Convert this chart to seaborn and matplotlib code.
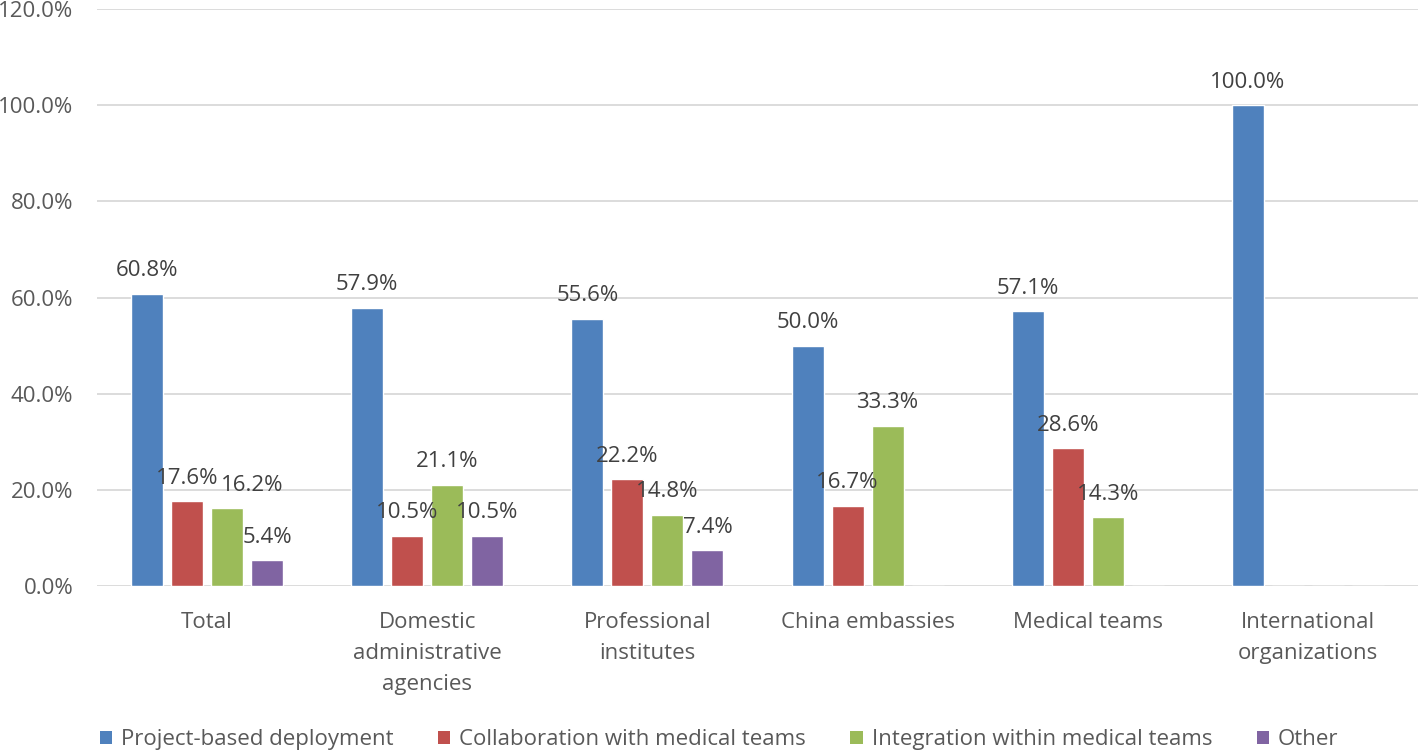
import pandas as pd
import matplotlib.pyplot as plt
import seaborn as sns
from matplotlib.patches import Patch
from matplotlib.ticker import PercentFormatter

categories = ["Total", "Domestic\nadministrative\nagencies", "Professional\ninstitutes",
              "China embassies", "Medical teams", "International\norganizations"]
series = ["Project-based deployment", "Collaboration with medical teams",
          "Integration within medical teams", "Other"]
project_based = [60.8, 57.9, 55.6, 50.0, 57.1, 100.0]
collaboration = [17.6, 10.5, 22.2, 16.7, 28.6, 0.0]
integration = [16.2, 21.1, 14.8, 33.3, 14.3, 0.0]
other = [5.4, 10.5, 7.4, 0.0, 0.0, 0.0]

colores = ["#4F81BD", "#C0504D", "#9BBB59", "#8064A2"]

rows = []
for s, vals in zip(series, [project_based, collaboration, integration, other]):
    for c, v in zip(categories, vals):
        rows.append({"Categoria": c, "Serie": s, "Valor": v})
df = pd.DataFrame(rows)

sns.set_theme(style="whitegrid")
plt.rcParams['font.family'] = ['Open Sans', 'DejaVu Sans']
fs = 16

fig = plt.figure(figsize=(14.18, 7.5), dpi=100)
ax = fig.add_axes([97 / 1418, 164 / 750, 1 - 97 / 1418, 577 / 750])

sns.barplot(data=df, x="Categoria", y="Valor", hue="Serie", order=categories,
            hue_order=series, palette=dict(zip(series, colores)), width=0.727, gap=0.2,
            errorbar=None, ax=ax, legend=False, saturation=1)

for i, cont in enumerate(ax.containers):
    etiquetas = [f"{b.get_height():.1f}%" if b.get_height() > 0 else "" for b in cont]
    textos = ax.bar_label(cont, labels=etiquetas, padding=9, fontsize=fs, color="#404040")
    # en el original la etiqueta verde de "Total" esta corrida a la derecha
    if i == 2:
        textos[0].set_position((18, 9))

ax.set_ylim(0, 120)
ax.set_xlim(-0.5, len(categories) - 0.5)
ax.yaxis.set_major_formatter(PercentFormatter(decimals=1))
ax.set_yticks(range(0, 121, 20))
ax.set_xlabel("")
ax.set_ylabel("")
ax.grid(axis="y", color="#D9D9D9", linewidth=1.3)
ax.grid(axis="x", visible=False)
for sp in ax.spines.values():
    sp.set_visible(False)
ax.tick_params(axis="both", length=0, labelsize=fs, colors="#595959")
ax.tick_params(axis="y", pad=17)
ax.tick_params(axis="x", pad=19)
for lab in ax.get_xticklabels():
    lab.set_linespacing(1.62)
    lab.set_verticalalignment("top")

handles = [Patch(facecolor=c, edgecolor="none") for c in colores]
fig.legend(handles, series, loc="lower left", bbox_to_anchor=(80 / 1418, -0.027), ncol=4,
           frameon=False, fontsize=fs, handlelength=0.55, handleheight=0.55,
           handletextpad=0.4, columnspacing=2.0, labelcolor="#595959")

plt.savefig("out.png", dpi=100)
plt.close()
